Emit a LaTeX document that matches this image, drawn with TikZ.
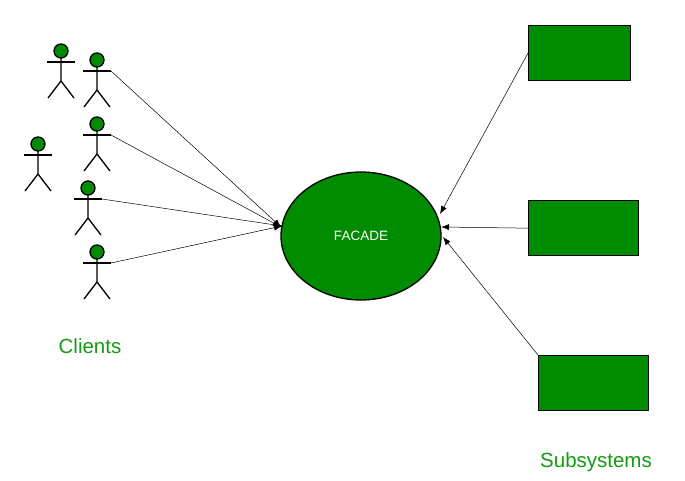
\documentclass[tikz,border=0pt]{standalone}
\usepackage{fontspec}
\setmainfont{Liberation Sans}
\usetikzlibrary{shapes.geometric,arrows.meta}
\definecolor{fg}{HTML}{008C00}
\definecolor{tg}{HTML}{129C12}
\begin{document}
\begin{tikzpicture}[x=1pt,y=-1pt,
  stick/.style={line width=1.3pt},
  arr/.style={-{Latex[length=8pt,width=6pt]},line width=0.5pt},
  box/.style={draw,line width=1.3pt,fill=fg,minimum width=#1,minimum height=55pt,inner sep=0pt,anchor=north west},
  lbl/.style={text=tg,font=\fontsize{20.5}{24}\selectfont}]
\useasboundingbox (0,0) rectangle (685,480);
\newcommand\actor[3]{%
  \draw[stick] (#1-14,#2+11) -- (#1+14,#2+11) coordinate (#3);
  \draw[stick] (#1,#2+7) -- (#1,#2+30) (#1-13,#2+47) -- (#1,#2+30) -- (#1+13,#2+47);
  \draw[stick,fill=fg] (#1,#2) circle (7);}
\actor{61}{51}{a1}
\actor{97}{60}{a2}
\actor{38}{144}{a3}
\actor{97}{124}{a4}
\actor{88}{188}{a5}
\actor{97}{252}{a6}
\node[ellipse,draw,line width=1.3pt,fill=fg,minimum width=160pt,minimum height=128pt,inner sep=0pt,text=white,font=\fontsize{13.5}{16}\selectfont] (f) at (361,236) {FACADE};
\node[box=102pt] (s1) at (528,25) {};
\node[box=110pt] (s2) at (528,200) {};
\node[box=110pt] (s3) at (538,355) {};
\coordinate (t1) at (281,227);
\coordinate (t2) at (282,226);
\coordinate (t3) at (440,214);
\coordinate (t4) at (441,227);
\coordinate (t5) at (443,237);
\draw[arr] (a2) -- (t1);
\draw[arr] (a4) -- (t1);
\draw[arr] (a5) -- (t2);
\draw[arr] (a6) -- (t2);
\draw[arr] (s1.west) -- (t3);
\draw[arr] (s2.west) -- (t4);
\draw[arr] (s3.north west) -- (t5);
\node[lbl] (cl) at (90,346) {Clients};
\node[lbl] (sub) at (596,462) {Subsystems};
\end{tikzpicture}
\end{document}
